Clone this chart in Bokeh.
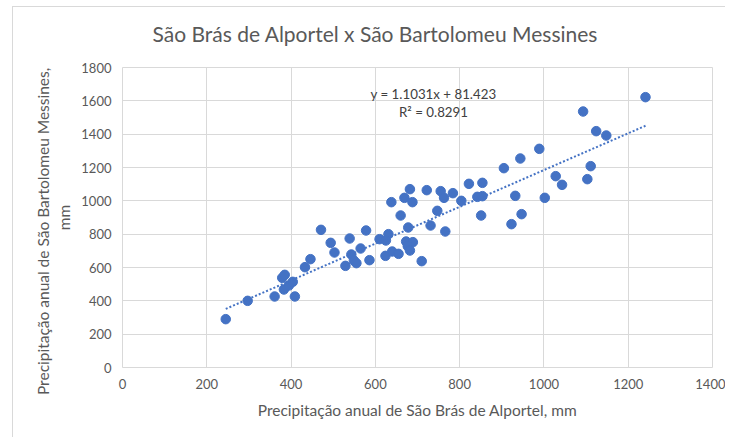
from bokeh.plotting import figure
from bokeh.models import Range1d, FixedTicker, Label, InlineStyleSheet
from bokeh.embed import file_html
from bokeh.resources import INLINE

# ---- data ----
sba_x = [245, 297, 361, 409, 383, 395, 404, 379, 385, 433, 446, 471, 494, 503, 529,
         539, 543, 549, 555, 565, 578, 586, 610, 631, 625, 624, 640, 655, 673, 689,
         677, 682, 710, 638, 669, 682, 688, 660, 678, 722, 731, 747, 755, 763, 766,
         784, 804, 822, 842, 854, 854, 851, 905, 932, 923, 947, 944, 989, 1002, 1028,
         1043, 1093, 1111, 1103, 1124, 1148, 1241]
sbm_y = [290, 400, 426, 426, 468, 492, 514, 538, 556, 602, 650, 826, 748, 690, 610,
         774, 678, 642, 626, 714, 822, 644, 770, 800, 762, 670, 696, 682, 756, 752,
         728, 702, 638, 992, 1018, 1070, 992, 912, 840, 1064, 852, 940, 1058, 1018, 816,
         1046, 1000, 1102, 1024, 1028, 1108, 912, 1196, 1030, 860, 920, 1254, 1312, 1018, 1148,
         1096, 1536, 1208, 1130, 1418, 1392, 1622]
trend_slope = 1.1031
trend_intercept = 81.423
x_ticks = [0, 200, 400, 600, 800, 1000, 1200, 1400]
y_ticks = [0, 200, 400, 600, 800, 1000, 1200, 1400, 1600, 1800]

title_text = "São Brás de Alportel x São Bartolomeu Messines"
x_label = "Precipitação anual de São Brás de Alportel, mm"
y_label = "Precipitação anual de São Bartolomeu Messines," + "\u00a0" * 7 + "\nmm"
eq_text = "y = 1.1031x + 81.423"
r2_text = "R² = 0.8291"

FONT = "Lato"
GREY = "#595959"
BLUE = "#4472C4"
GRID = "#D9D9D9"

frame_css = InlineStyleSheet(css="""
:host { position: relative; }
:host::after {
  content: "";
  position: absolute;
  left: 12px; top: 6px; right: 0px; bottom: 0px;
  border-left: 1px solid #D9D9D9;
  border-top: 1px solid #D9D9D9;
  pointer-events: none;
}
""")

p = figure(width=725, height=437, output_backend="svg", toolbar_location=None,
           x_range=Range1d(0, 1400), y_range=Range1d(0, 1800),
           min_border_left=122, min_border_right=13, min_border_top=67,
           min_border_bottom=70, stylesheets=[frame_css])
p.background_fill_color = "white"
p.border_fill_color = "white"
p.outline_line_color = GRID

p.title.text = title_text
p.title.align = "left"
p.title.offset = 30
p.title.vertical_align = "top"
p.title.text_font = FONT
p.title.text_font_style = "normal"
p.title.text_font_size = "21px"
p.title.text_color = GREY
p.title.standoff = 40

for ax in (p.xaxis[0], p.yaxis[0]):
    ax.axis_line_color = None
    ax.major_tick_line_color = None
    ax.minor_tick_line_color = None
    ax.major_tick_out = 0
    ax.major_tick_in = 0
    ax.major_label_text_font = FONT
    ax.major_label_text_font_size = "13px"
    ax.major_label_text_color = GREY
    ax.axis_label_text_font = FONT
    ax.axis_label_text_font_size = "15.5px"
    ax.axis_label_text_font_style = "normal"
    ax.axis_label_text_color = GREY

p.xaxis[0].ticker = FixedTicker(ticks=x_ticks)
p.yaxis[0].ticker = FixedTicker(ticks=y_ticks)
p.xaxis[0].major_label_standoff = 11
p.yaxis[0].major_label_standoff = 11
p.xaxis[0].axis_label = x_label
p.yaxis[0].axis_label = y_label
p.xaxis[0].axis_label_standoff = 9
p.yaxis[0].axis_label_standoff = 5

p.xgrid.ticker = FixedTicker(ticks=x_ticks)
p.ygrid.ticker = FixedTicker(ticks=y_ticks)
p.xgrid.grid_line_color = GRID
p.ygrid.grid_line_color = GRID

p.scatter(sba_x, sbm_y, size=9.5, color=BLUE, line_color=BLUE)

tx = [min(sba_x), max(sba_x)]
ty = [trend_slope * v + trend_intercept for v in tx]
p.line(tx, ty, line_color=BLUE, line_width=2, line_dash="2 2")

p.add_layout(Label(x=738, y=1640, text=eq_text, text_align="center", text_baseline="middle",
                   text_font=FONT, text_font_size="13.3px", text_color="#404040"))
p.add_layout(Label(x=738, y=1536, text=r2_text, text_align="center", text_baseline="middle",
                   text_font=FONT, text_font_size="13.3px", text_color="#404040"))

open("out.html", "w").write(file_html(p, INLINE))
